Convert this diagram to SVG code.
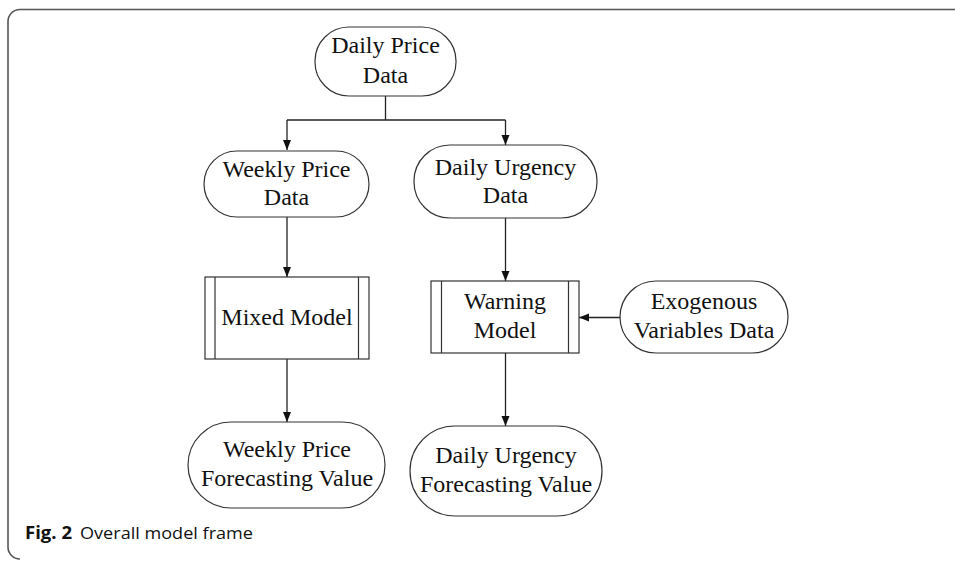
<svg xmlns="http://www.w3.org/2000/svg" width="955" height="561" viewBox="0 0 955 561">
<defs>
<marker id="arr" markerUnits="userSpaceOnUse" markerWidth="10" markerHeight="10" viewBox="0 0 10 10" refX="10" refY="5" orient="auto">
<path d="M0,1 L10,5 L0,9 Z" fill="#111"/>
</marker>
<style>
.n{fill:#fff;stroke:#333;stroke-width:1.2}
.t{font-family:"Liberation Serif","Times New Roman",serif;font-size:24px;fill:#111;text-anchor:middle}
.c{fill:none;stroke:#222;stroke-width:1.3}
.a{fill:none;stroke:#222;stroke-width:1.3;marker-end:url(#arr)}
.cap{font-family:"Open Sans","Noto Sans",sans-serif;font-size:17px;fill:#111}
</style>
</defs>
<rect width="955" height="561" fill="#fff"/>
<path id="frame" d="M955,9.5 L20,9.5 A12,12 0 0 0 8,21.5 L8,547 A12,12 0 0 0 20,559" fill="none" stroke="#555" stroke-width="1.6"/>
<g id="connectors">
<path class="c" d="M385.5,96 L385.5,120 M287,120 L505.5,120"/>
<path class="a" d="M287,120 L287,150"/>
<path class="a" d="M505.5,120 L505.5,145"/>
<path class="a" d="M287,217 L287,277"/>
<path class="a" d="M505.5,218 L505.5,281"/>
<path class="a" d="M287,359 L287,422"/>
<path class="a" d="M505.5,353 L505.5,426"/>
<path class="a" d="M620,317.5 L579,317.5"/>
</g>
<g id="daily-price">
<rect class="n" x="315" y="27" width="141" height="69" rx="34" ry="34"/>
<text class="t" x="385.5" y="53">Daily Price</text>
<text class="t" x="385.5" y="83">Data</text>
</g>
<g id="weekly-price">
<rect class="n" x="204" y="151" width="165" height="66" rx="33" ry="33"/>
<text class="t" x="286.5" y="177">Weekly Price</text>
<text class="t" x="286.5" y="205">Data</text>
</g>
<g id="daily-urgency">
<rect class="n" x="414" y="145" width="183" height="73" rx="36" ry="36"/>
<text class="t" x="505.5" y="175">Daily Urgency</text>
<text class="t" x="505.5" y="203">Data</text>
</g>
<g id="mixed-model">
<rect class="n" x="205" y="277" width="164" height="82"/>
<path class="n" d="M215,277 L215,359 M358.5,277 L358.5,359"/>
<text class="t" x="287" y="325">Mixed Model</text>
</g>
<g id="warning-model">
<rect class="n" x="431" y="281" width="148" height="72"/>
<path class="n" d="M441.5,281 L441.5,353 M568.5,281 L568.5,353"/>
<text class="t" x="505" y="309">Warning</text>
<text class="t" x="505" y="338">Model</text>
</g>
<g id="exogenous">
<rect class="n" x="620" y="281" width="168" height="72" rx="36" ry="36"/>
<text class="t" x="704" y="309">Exogenous</text>
<text class="t" x="704" y="338">Variables Data</text>
</g>
<g id="weekly-forecast">
<rect class="n" x="188" y="422" width="197" height="86" rx="43" ry="43"/>
<text class="t" x="287" y="457">Weekly Price</text>
<text class="t" x="287" y="486">Forecasting Value</text>
</g>
<g id="daily-forecast">
<rect class="n" x="410" y="426" width="192" height="90" rx="45" ry="45"/>
<text class="t" x="506" y="463">Daily Urgency</text>
<text class="t" x="506" y="492">Forecasting Value</text>
</g>
<g id="caption">
<text class="cap" x="25" y="539" font-weight="bold" textLength="47" lengthAdjust="spacingAndGlyphs">Fig. 2</text>
<text class="cap" x="80" y="539" textLength="173" lengthAdjust="spacingAndGlyphs">Overall model frame</text>
</g>
</svg>
